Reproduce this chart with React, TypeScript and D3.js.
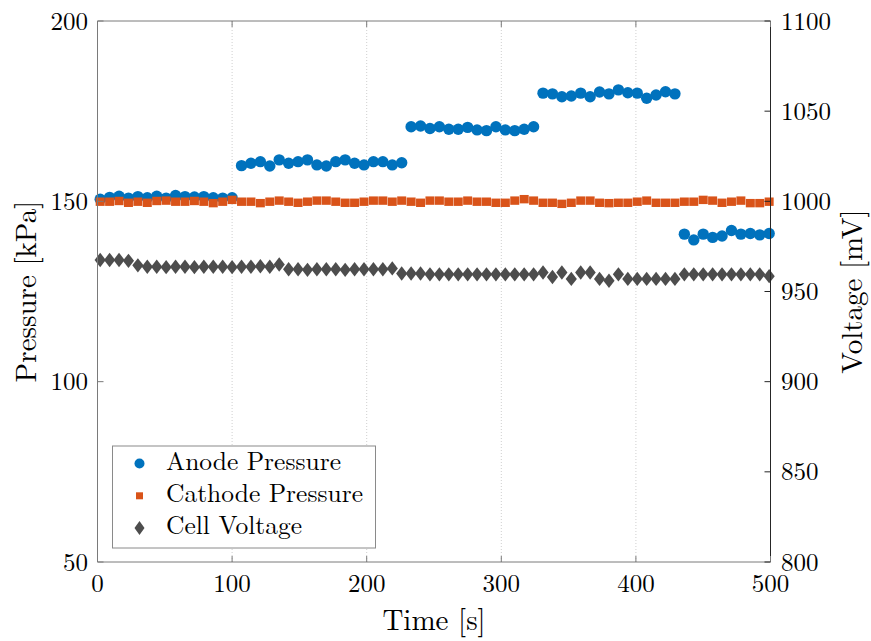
import * as d3 from 'd3';

// sample times [s]
const time = [
  2, 9, 16, 23, 30, 37, 44, 51, 58, 65, 72, 79, 86, 93, 100, 107, 114, 121, 128, 135,
  142, 149, 156, 163, 170, 177, 184, 191, 198, 205, 212, 219, 226, 233, 240, 247, 254, 261, 268, 275,
  282, 289, 296, 303, 310, 317, 324, 331, 338, 345, 352, 359, 366, 373, 380, 387, 394, 401, 408, 415,
  422, 429, 436, 443, 450, 457, 464, 471, 478, 485, 492, 499,
];

// kPa
const anodePressure = [
  150.6, 151.1, 151.4, 150.9, 151.3, 151.0, 151.4, 150.9, 151.6, 151.3, 151.2, 151.3, 151.0, 150.9, 151.0,
  159.9, 160.55, 161.0, 159.8, 161.5, 160.55, 161.0, 161.5, 160.1, 159.8, 161.0, 161.5, 160.55, 160.1, 161.0, 161.0, 160.1, 160.7,
  170.7, 170.9, 170.2, 170.7, 170.0, 170.0, 170.5, 169.8, 169.6, 170.7, 169.8, 169.6, 170.0, 170.7,
  180.0, 179.8, 179.0, 179.2, 180.0, 179.0, 180.3, 179.8, 180.9, 180.1, 180.0, 178.6, 179.5, 180.4, 179.8,
  140.9, 139.3, 140.9, 140.0, 140.4, 141.9, 140.9, 141.1, 140.7, 141.1,
];

const cathodePressure = [
  149.9, 149.9, 150.1, 149.6, 149.9, 149.6, 150.1, 150.2, 149.9, 149.9, 150.1, 149.9, 149.5, 149.9, 150.4, 149.9,
  149.9,
  149.5, 149.9, 150.2, 149.9, 149.6, 149.9, 150.2, 150.2, 149.9, 149.6, 149.6, 149.9, 150.2, 150.2, 149.9, 150.2, 149.9, 149.6, 150.2,
  150.2, 149.9, 149.9, 150.2, 149.9, 149.9, 149.6, 149.6, 150.2, 150.6, 150.2, 149.6, 149.6, 149.3, 149.6, 150.2, 150.2, 149.6,
  149.5, 149.6, 149.6, 149.9, 150.2, 149.6, 149.6, 149.6, 149.9, 149.9, 150.4, 150.2, 149.6, 149.9, 150.2, 149.5, 149.5, 149.9,
];

// mV
const cellVoltage = [
  967.5, 967.5, 967.5, 967.0,
  964.5, 963.7, 963.7, 963.5, 963.7, 963.7, 963.5, 963.7, 963.7, 963.7, 963.5, 963.7, 963.7,
  964.0, 963.7, 965.0,
  962.3, 962.3, 962.0, 962.3, 962.3, 962.3, 962.0, 962.3, 962.3, 962.3, 962.3, 962.8,
  960.0, 960.0, 960.0, 959.5, 959.5, 959.5, 959.5, 959.5, 959.5, 959.5, 959.5, 959.5, 959.5, 959.5, 959.5,
  960.5, 958.0, 960.5, 957.0, 960.5, 960.5, 957.0, 956.0, 959.5, 957.0, 957.0, 957.0, 957.0, 957.0, 957.0,
  959.5, 959.5, 959.5, 959.5, 959.5, 959.5, 959.5, 959.5, 959.5, 958.5,
];

const xTicks = [0, 100, 200, 300, 400, 500];
const leftTicks = [50, 100, 150, 200];
const rightTicks = [800, 850, 900, 950, 1000, 1050, 1100];
const legendLabels = ['Anode Pressure', 'Cathode Pressure', 'Cell Voltage'];

const BLUE = '#0072BD';
const ORANGE = '#D95319';
const GRAY = '#4D4D4D';
const FONT = '"Latin Modern Roman", "CMU Serif", "Liberation Serif", serif';

const diamond = (cx: number, cy: number, w: number, h: number) =>
  `M${cx},${cy - h}L${cx + w},${cy}L${cx},${cy + h}L${cx - w},${cy}Z`;

export default function App() {
  const width = 871;
  const height = 641;
  const left = 97.5, right = 770.5, top = 21, bottom = 562;

  const x = d3.scaleLinear().domain([0, 500]).range([left, right]);
  const yL = d3.scaleLinear().domain([50, 200]).range([bottom, top]);
  const yR = d3.scaleLinear().domain([800, 1100]).range([bottom, top]);

  const legendRows = [0, 1, 2].map(i => 469.5 + i * 32.3);

  return (
    <svg width={width} height={height} style={{ position: 'absolute', left: 0, top: 0, background: '#fff' }}
      fontFamily={FONT}>
      {/* vertical grid */}
      {xTicks.slice(1, -1).map(t => (
        <line key={t} x1={x(t)} x2={x(t)} y1={top} y2={bottom}
          stroke="#cfcfcf" strokeWidth={1} strokeDasharray="1,2" />
      ))}

      {/* data */}
      {anodePressure.map((v, i) => (
        <circle key={'a' + i} cx={x(time[i])} cy={yL(v)} r={5.7} fill={BLUE} />
      ))}
      {cathodePressure.map((v, i) => (
        <rect key={'c' + i} x={x(time[i]) - 4.5} y={yL(v) - 4.2} width={9} height={8.4} fill={ORANGE} />
      ))}
      {cellVoltage.map((v, i) => (
        <path key={'v' + i} d={diamond(x(time[i]), yR(v), 5.6, 7.2)} fill={GRAY} />
      ))}

      {/* axes box */}
      <line x1={left} x2={right} y1={top} y2={top} stroke="#7a7a7a" />
      <line x1={left} x2={right} y1={bottom} y2={bottom} stroke="#7a7a7a" />
      <line x1={left} x2={left} y1={top} y2={bottom} stroke="#7a7a7a" />
      <line x1={right} x2={right} y1={top} y2={bottom} stroke="#262626" />

      {xTicks.map(t => (
        <g key={'xt' + t}>
          <line x1={x(t)} x2={x(t)} y1={bottom} y2={bottom - 6} stroke="#7a7a7a" />
          <line x1={x(t)} x2={x(t)} y1={top} y2={top + 6} stroke="#7a7a7a" />
          <text x={x(t)} y={592} textAnchor="middle" fontSize={25}>{t}</text>
        </g>
      ))}
      {leftTicks.map(t => (
        <g key={'yl' + t}>
          <line x1={left} x2={left + 6} y1={yL(t)} y2={yL(t)} stroke="#7a7a7a" />
          <text x={88} y={yL(t) + 8.5} textAnchor="end" fontSize={25}>{t}</text>
        </g>
      ))}
      {rightTicks.map(t => (
        <g key={'yr' + t}>
          <line x1={right} x2={right - 6} y1={yR(t)} y2={yR(t)} stroke="#262626" />
          <text x={781} y={yR(t) + 8.5} textAnchor="start" fontSize={25}>{t}</text>
        </g>
      ))}

      {/* axis labels */}
      <text x={434} y={630} textAnchor="middle" fontSize={29}>Time [s]</text>
      <text transform={`translate(36,${(top + bottom) / 2}) rotate(-90)`} textAnchor="middle" fontSize={29}>
        Pressure [kPa]
      </text>
      <text transform={`translate(862,${(top + bottom) / 2}) rotate(-90)`} textAnchor="middle" fontSize={29}>
        Voltage [mV]
      </text>

      {/* legend */}
      <rect x={112.5} y={446} width={263} height={102} fill="#fff" stroke="#8a8a8a" strokeWidth={1} />
      <circle cx={139.5} cy={legendRows[0] - 6} r={5} fill={BLUE} />
      <rect x={136} y={legendRows[1] - 9.5} width={7} height={7} fill={ORANGE} />
      <path d={diamond(139.5, legendRows[2] - 6, 5, 7)} fill={GRAY} />
      {legendLabels.map((l, i) => (
        <text key={l} x={166} y={legendRows[i]} fontSize={25.5}>{l}</text>
      ))}
    </svg>
  );
}
